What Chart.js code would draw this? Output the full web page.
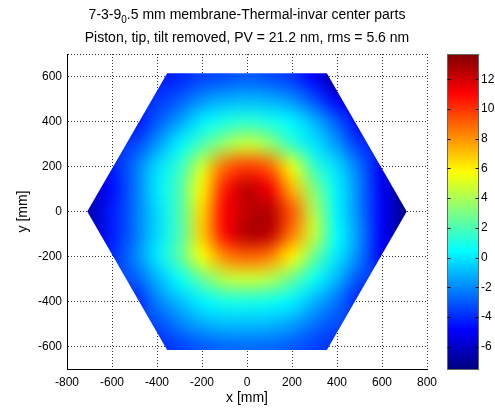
<!DOCTYPE html>
<html lang="en">
  <head>
    <meta charset="UTF-8" />
    <style>
      body { margin: 0; background: #fff; }
      #wrap { width: 495px; height: 410px; }
    </style>
  </head>
  <body>
    <div id="wrap"><canvas id="myChart" width="495" height="410"></canvas></div>
    <script src="https://cdn.jsdelivr.net/npm/chart.js@4.4.0/dist/chart.umd.min.js"></script>

    <script>
      // surface values [nm] read off the map, sampled every 100 mm
      // rows go from top (y = 600) to bottom (y = -600), null = off the mirror
      var xGrid = [-700, -600, -500, -400, -300, -200, -100, 0, 100, 200, 300, 400, 500, 600, 700];
      var yGrid = [600, 500, 400, 300, 200, 100, 0, -100, -200, -300, -400, -500, -600];
      var zGrid = [
        [null, null, null, -4.3, -4.1, -3.5, -3.3, -3.0, -3.3, -3.8, -5.0, -7.0, null, null, null],
        [null, null, null, -3.8, -3.0, -1.9, -1.3, -1.1, -1.3, -1.9, -3.3, -5.1, null, null, null],
        [null, null, -4.6, -3.0, -1.5, 0.1, 1.0, 1.4, 1.0, 0.2, -1.1, -3.0, -5.0, null, null],
        [null, null, -3.5, -1.7, 0.2, 2.0, 3.6, 4.6, 3.6, 1.5, -0.1, -1.7, -3.8, null, null],
        [null, -4.3, -2.5, -0.3, 1.5, 4.7, 8.8, 9.8, 9.0, 5.2, 1.5, -0.3, -2.5, -5.0, null],
        [-6.0, -4.6, -2.5, 0.0, 2.0, 6.0, 10.5, 12.4, 11.3, 7.3, 3.1, 0.2, -2.2, -5.1, -7.0],
        [-6.4, -4.3, -2.5, -0.3, 2.0, 6.6, 11.0, 12.4, 12.6, 9.2, 4.0, 0.2, -2.2, -5.0, -7.2],
        [-6.0, -4.3, -2.5, -0.3, 2.0, 6.8, 10.8, 12.7, 12.4, 8.5, 4.5, 0.5, -1.9, -5.0, -7.0],
        [null, -4.0, -2.2, 0.0, 2.3, 5.5, 8.2, 9.0, 8.4, 6.0, 2.6, 0.0, -2.2, -5.0, null],
        [null, null, -3.0, -1.1, 0.6, 2.6, 4.2, 4.6, 4.2, 2.6, 0.7, -1.1, -3.3, null, null],
        [null, null, -4.2, -2.2, -0.9, 0.2, 0.9, 1.0, 0.8, 0.2, -1.1, -2.5, -4.2, null, null],
        [null, null, null, -3.3, -2.2, -1.3, -0.9, -0.9, -1.0, -1.5, -2.5, -3.3, null, null, null],
        [null, null, null, -4.0, -3.5, -3.0, -2.7, -2.6, -2.7, -3.0, -3.5, -4.0, null, null, null]
      ];
      // hexagon outline of the mirror [mm]
      var hexX = [-355, 355, 710, 355, -355, -710];
      var hexY = [615, 615, 0, -615, -615, 0];

      var xTicks = [-800, -600, -400, -200, 0, 200, 400, 600, 800];
      var yTicks = [-700, -600, -400, -200, 0, 200, 400, 600, 700];
      var cbTicks = [-6, -4, -2, 0, 2, 4, 6, 8, 10, 12];
      var cbMin = -7.5;
      var cbMax = 13.7;

      var titleMain = ["7-3-9", "0", ".5 mm membrane-Thermal-invar center parts"];
      var titleSub = "Piston, tip, tilt removed, PV = 21.2 nm, rms = 5.6 nm";

      var FONT = '"Liberation Sans", Arial, sans-serif';
      Chart.defaults.font.family = FONT;
      Chart.defaults.color = "#000";

      function jet(v) {
        var t = (v - cbMin) / (cbMax - cbMin);
        t = Math.max(0, Math.min(1, t));
        function c(x) { return Math.round(255 * Math.max(0, Math.min(1, x))); }
        return [c(1.5 - Math.abs(4 * t - 3)), c(1.5 - Math.abs(4 * t - 2)), c(1.5 - Math.abs(4 * t - 1))];
      }

      // fill the off-mirror cells from their neighbours so the edge blends cleanly
      function paddedGrid() {
        var g = zGrid.map(function (r) { return r.slice(); });
        var missing = true;
        while (missing) {
          missing = false;
          var next = g.map(function (r) { return r.slice(); });
          for (var i = 0; i < g.length; i++) {
            for (var j = 0; j < g[i].length; j++) {
              if (g[i][j] !== null) continue;
              var s = 0, n = 0;
              for (var di = -1; di <= 1; di++) {
                for (var dj = -1; dj <= 1; dj++) {
                  var r = g[i + di];
                  if (r && r[j + dj] !== undefined && r[j + dj] !== null) { s += r[j + dj]; n++; }
                }
              }
              if (n) next[i][j] = s / n; else missing = true;
            }
          }
          g = next;
        }
        return g;
      }

      var heatmap = {
        id: "heatmap",
        beforeDatasetsDraw: function (chart) {
          var ctx = chart.ctx, xs = chart.scales.x, ys = chart.scales.y;
          var g = paddedGrid();
          var off = document.createElement("canvas");
          off.width = xGrid.length;
          off.height = yGrid.length;
          var octx = off.getContext("2d");
          var img = octx.createImageData(off.width, off.height);
          for (var i = 0; i < yGrid.length; i++) {
            for (var j = 0; j < xGrid.length; j++) {
              var col = jet(g[i][j]), k = (i * xGrid.length + j) * 4;
              img.data[k] = col[0]; img.data[k + 1] = col[1]; img.data[k + 2] = col[2]; img.data[k + 3] = 255;
            }
          }
          octx.putImageData(img, 0, 0);

          var hx = (xGrid[1] - xGrid[0]) / 2, hy = (yGrid[0] - yGrid[1]) / 2;
          var left = xs.getPixelForValue(xGrid[0] - hx);
          var right = xs.getPixelForValue(xGrid[xGrid.length - 1] + hx);
          var top = ys.getPixelForValue(yGrid[0] + hy);
          var bottom = ys.getPixelForValue(yGrid[yGrid.length - 1] - hy);

          ctx.save();
          ctx.beginPath();
          hexX.forEach(function (x, i) {
            var px = xs.getPixelForValue(x), py = ys.getPixelForValue(hexY[i]);
            if (i) ctx.lineTo(px, py); else ctx.moveTo(px, py);
          });
          ctx.closePath();
          ctx.clip();
          ctx.imageSmoothingEnabled = true;
          ctx.imageSmoothingQuality = "high";
          ctx.drawImage(off, left, top, right - left, bottom - top);
          ctx.restore();
        }
      };

      var colorbar = {
        id: "colorbar",
        afterDraw: function (chart) {
          var ctx = chart.ctx, cb = chart.scales.cb, a = chart.chartArea;
          var x0 = a.right + 20.5, w = 31;
          var yTop = cb.getPixelForValue(cbMax), yBot = cb.getPixelForValue(cbMin);
          var grad = ctx.createLinearGradient(0, yBot, 0, yTop);
          for (var k = 0; k <= 64; k++) {
            var c = jet(cbMin + (k / 64) * (cbMax - cbMin));
            grad.addColorStop(k / 64, "rgb(" + c.join(",") + ")");
          }
          ctx.save();
          ctx.fillStyle = grad;
          ctx.fillRect(x0, yTop, w, yBot - yTop);
          ctx.strokeStyle = "#666";
          ctx.lineWidth = 1;
          ctx.strokeRect(x0, Math.round(yTop) + 0.5, w, Math.round(yBot - yTop));
          ctx.strokeStyle = "#000";
          cbTicks.forEach(function (v) {
            var y = Math.round(cb.getPixelForValue(v)) + 0.5;
            ctx.beginPath();
            ctx.moveTo(x0, y); ctx.lineTo(x0 + 3, y);
            ctx.moveTo(x0 + w - 3, y); ctx.lineTo(x0 + w, y);
            ctx.stroke();
          });
          ctx.restore();
        }
      };

      var titles = {
        id: "titles",
        afterDraw: function (chart) {
          var ctx = chart.ctx, a = chart.chartArea, cx = (a.left + a.right) / 2;
          var big = "14px " + FONT, small = "10px " + FONT;
          ctx.save();
          ctx.fillStyle = "#000";
          ctx.textBaseline = "middle";
          ctx.textAlign = "left";
          ctx.font = big;
          var w1 = ctx.measureText(titleMain[0]).width, w3 = ctx.measureText(titleMain[2]).width;
          ctx.font = small;
          var w2 = ctx.measureText(titleMain[1]).width;
          var x = cx - (w1 + w2 + w3) / 2;
          ctx.font = big;
          ctx.fillText(titleMain[0], x, 15);
          ctx.font = small;
          ctx.fillText(titleMain[1], x + w1, 20);
          ctx.font = big;
          ctx.fillText(titleMain[2], x + w1 + w2, 15);
          ctx.textAlign = "center";
          ctx.fillText(titleSub, cx, 38);
          ctx.restore();
        }
      };

      // keep the tick labels from pushing the plot box around
      function noPad(s) {
        s.paddingTop = 0; s.paddingBottom = 0; s.paddingLeft = 0; s.paddingRight = 0;
      }

      var gridStyle = { color: "#333", lineWidth: 1, drawTicks: false };
      var borderStyle = { display: true, color: "#000", width: 1, dash: [1, 2] };

      var chart = new Chart(document.getElementById("myChart"), {
        type: "scatter",
        data: { datasets: [] },
        options: {
          responsive: false,
          animation: false,
          layout: { padding: { top: 54, right: 0, bottom: 0, left: 0 } },
          plugins: { legend: { display: false }, tooltip: { enabled: false } },
          scales: {
            x: {
              type: "linear",
              min: -800,
              max: 800,
              afterBuildTicks: function (s) { s.ticks = xTicks.map(function (v) { return { value: v }; }); },
              afterFit: function (s) { s.height = 41; noPad(s); },
              grid: gridStyle,
              border: borderStyle,
              ticks: { padding: 6, font: { size: 12 }, autoSkip: false, maxRotation: 0 },
              title: { display: true, text: "x [mm]", font: { size: 14 }, padding: { top: 0, bottom: 3 } }
            },
            y: {
              type: "linear",
              min: -700,
              max: 700,
              afterBuildTicks: function (s) { s.ticks = yTicks.map(function (v) { return { value: v }; }); },
              afterFit: function (s) { s.width = 67; noPad(s); },
              grid: gridStyle,
              border: borderStyle,
              ticks: {
                padding: 5,
                font: { size: 12 },
                autoSkip: false,
                callback: function (v) { return Math.abs(v) === 700 ? "" : v; }
              },
              title: { display: true, text: "y [mm]", font: { size: 14 }, padding: { top: 15, bottom: 0 } }
            },
            cb: {
              type: "linear",
              axis: "y",
              position: "right",
              min: cbMin,
              max: cbMax,
              afterBuildTicks: function (s) { s.ticks = cbTicks.map(function (v) { return { value: v }; }); },
              afterFit: function (s) { s.width = 68; noPad(s); },
              grid: { display: false, drawTicks: false },
              border: { display: false },
              ticks: { padding: 54, font: { size: 12 }, autoSkip: false }
            }
          }
        },
        plugins: [heatmap, colorbar, titles]
      });
    </script>
  </body>
</html>
